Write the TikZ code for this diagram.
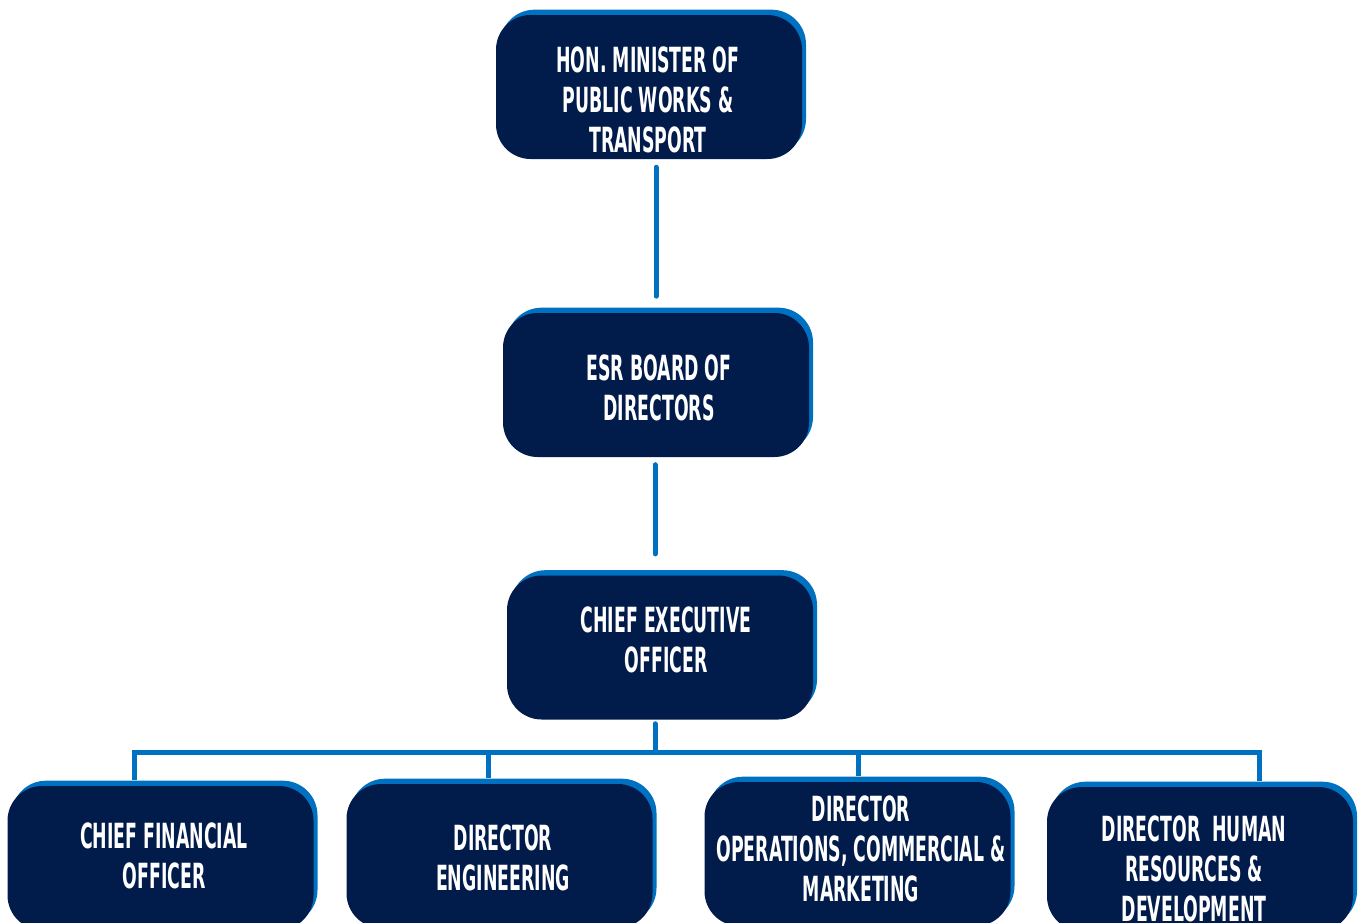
\documentclass[tikz,border=0pt]{standalone}
\usepackage{fontspec}
\usetikzlibrary{shadows,calc}
\newfontfamily\boxfont[FakeStretch=0.5]{DejaVu Sans}
\definecolor{esrnavy}{HTML}{011B4B}
\definecolor{esrblue}{HTML}{0070C0}
\begin{document}
\begin{tikzpicture}[x=0.75pt,y=-0.75pt,
  orgbox/.style={rectangle, rounded corners=26pt, fill=esrnavy, minimum width=229.5pt, minimum height=108pt, inner sep=0pt,
    general shadow={fill=esrblue, shadow xshift=3pt, shadow yshift=4pt}},
  orgtext/.style={text=white, align=center, inner sep=0pt, font=\boxfont\bfseries\fontsize{26}{30}\selectfont},
  conn/.style={draw=esrblue, line width=3.75pt, line cap=round},
  bus/.style={draw=esrblue, line width=3.75pt, line join=miter}]
\useasboundingbox (0,0) rectangle (1363,922);
\clip (0,0) rectangle (1363,922);
% connector guide coordinates
\coordinate (v1) at (656,0);
\coordinate (v2) at (655,0);
\coordinate (d0) at (655,752);
\coordinate (d1) at (134,752);
\coordinate (d2) at (488,752);
\coordinate (d3) at (858,752);
\coordinate (d4) at (1259,752);
% box shapes
\node[orgbox] (min) at (649,87) {};
\node[orgbox] (board) at (656,385) {};
\node[orgbox] (ceo) at (660,647.5) {};
\node[orgbox] (b1) at (160.5,858) {};
\node[orgbox] (b2) at (499.5,856) {};
\node[orgbox] (b3) at (857.5,854) {};
\node[orgbox] (b4) at (1200,859) {};
% connectors
\draw[conn, shorten <=6pt, shorten >=12.4pt] (min.south -| v1) -- (board.north -| v1);
\draw[conn, shorten <=5.6pt, shorten >=16pt] (board.south -| v2) -- (ceo.north -| v2);
\draw[conn, shorten <=3pt] (ceo.south -| d0) -- (d0);
\draw[bus] ($(d1 |- b1.north)+(0,-6)$) -- (d1) -- (d4) -- ($(d4 |- b4.north)+(0,-6)$);
\draw[bus] (d2) -- ($(d2 |- b2.north)+(0,-6)$);
\draw[bus] (d3) -- ($(d3 |- b3.north)+(0,-6)$);
% texts
\node[orgtext] (mint) at (648,100) {HON. MINISTER OF\\PUBLIC WORKS \&\\TRANSPORT};
\node[orgtext] (boardt) at (659,388) {ESR BOARD OF\\DIRECTORS};
\node[orgtext] (ceot) at (666,640) {CHIEF EXECUTIVE\\OFFICER};
\node[orgtext] (b1t) at (164,856) {CHIEF FINANCIAL\\OFFICER};
\node[orgtext] (b2t) at (503,858) {DIRECTOR\\ENGINEERING};
\node[orgtext] (b3t) at (861,849) {DIRECTOR\\OPERATIONS, COMMERCIAL \&\\MARKETING};
\node[orgtext] (b4t) at (1194,869) {DIRECTOR~~HUMAN\\RESOURCES \&\\DEVELOPMENT};
\end{tikzpicture}
\end{document}
